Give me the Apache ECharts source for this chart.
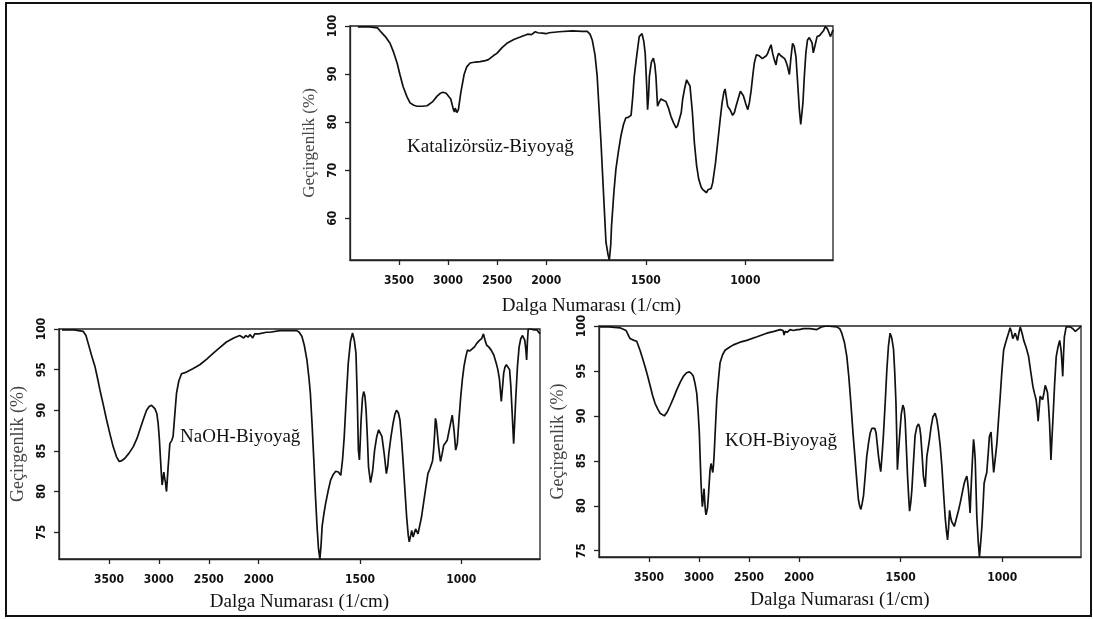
<!DOCTYPE html>
<html>
<head>
<meta charset="utf-8">
<title>FTIR Biyoyağ</title>
<script src="https://cdn.jsdelivr.net/npm/echarts@6/dist/echarts.min.js"></script>
<style>
  html, body { margin: 0; padding: 0; background: #fff; }
  #chart { width: 1093px; height: 619px; }
</style>
</head>
<body>
<div id="chart"></div>
<script>
// FTIR spectra: [wavenumber (1/cm), transmittance (%)]
const katalizorsuzSpectrum = [
  [3920, 99.8], [3800, 99.8], [3720, 99.6], [3694, 99.0], [3640, 97.8], [3592, 96.4], [3555, 94.5],
  [3520, 92.3], [3490, 89.8], [3459, 87.4], [3420, 85.3], [3388, 84.0], [3350, 83.5], [3316, 83.3],
  [3260, 83.3], [3214, 83.4], [3160, 84.2], [3112, 85.4], [3080, 86.0], [3051, 86.2], [3020, 86.0],
  [3000, 85.7], [2973, 84.8], [2946, 82.6], [2935, 82.1], [2928, 82.9], [2922, 82.5], [2910, 82.0],
  [2895, 82.6], [2871, 86.1], [2837, 89.9], [2810, 91.5], [2776, 92.3], [2720, 92.5], [2673, 92.6],
  [2620, 92.8], [2589, 93.0], [2540, 93.8], [2503, 94.3], [2450, 95.5], [2401, 96.4], [2330, 97.2],
  [2265, 97.7], [2190, 98.3], [2150, 98.2], [2112, 98.8], [2085, 98.6], [2070, 98.2], [2040, 98.5],
  [2000, 98.4], [1985, 98.6], [1935, 98.8], [1869, 99.0], [1820, 98.9], [1794, 98.9], [1780, 98.3],
  [1769, 97.1], [1755, 94.0], [1744, 89.5], [1735, 83.0], [1725, 75.8], [1712, 65.0], [1700, 55.0],
  [1690, 52.5], [1683, 51.3], [1676, 54.5], [1672, 58.4], [1660, 65.5], [1650, 70.2], [1637, 74.0],
  [1625, 77.1], [1612, 79.5], [1600, 80.9], [1588, 81.0], [1574, 81.4], [1566, 85.0], [1558, 89.5],
  [1545, 94.0], [1533, 97.8], [1519, 98.4], [1510, 96.8], [1503, 94.3], [1496, 88.0], [1491, 82.6],
  [1486, 85.5], [1482, 89.5], [1472, 92.5], [1462, 93.3], [1455, 92.0], [1449, 89.5], [1441, 83.3],
  [1432, 84.2], [1424, 84.8], [1410, 84.5], [1399, 84.3], [1385, 82.8], [1374, 81.2], [1360, 79.8],
  [1348, 78.8], [1340, 79.3], [1332, 79.2], [1322, 82.0], [1315, 84.7], [1305, 87.0], [1295, 88.8],
  [1286, 88.5], [1278, 87.5], [1266, 82.0], [1256, 75.7], [1245, 71.0], [1234, 68.1], [1222, 66.5],
  [1215, 66.0], [1206, 65.7], [1195, 65.3], [1188, 65.9], [1181, 65.6], [1172, 66.2], [1164, 67.4],
  [1150, 71.5], [1139, 75.7], [1128, 80.0], [1117, 84.0], [1108, 86.2], [1102, 86.9], [1095, 85.0],
  [1089, 83.3], [1076, 82.5], [1064, 81.4], [1055, 82.0], [1047, 83.3], [1035, 85.0], [1025, 86.4],
  [1016, 86.0], [1010, 85.5], [998, 83.8], [988, 82.6], [980, 84.0], [971, 86.6], [962, 90.0],
  [955, 92.3], [945, 94.0], [938, 93.6], [930, 93.8], [915, 93.2], [905, 93.6], [895, 93.8],
  [888, 94.3], [880, 95.2], [871, 96.1], [863, 94.3], [855, 93.0], [846, 91.9], [840, 93.5],
  [833, 94.3], [822, 93.8], [813, 93.6], [803, 93.2], [796, 92.6], [788, 91.5], [779, 89.9],
  [771, 93.5], [763, 96.4], [755, 95.8], [746, 93.6], [738, 88.5], [729, 82.6], [722, 79.5],
  [718, 79.2], [711, 84.0], [704, 89.5], [696, 94.5], [688, 97.1], [679, 97.6], [671, 97.8],
  [665, 96.5], [659, 94.4], [650, 96.0], [640, 97.8], [628, 98.0], [618, 98.1], [608, 99.0],
  [598, 99.9], [588, 99.4], [580, 98.6], [573, 97.8], [566, 98.5], [560, 99.2]
];

const naohSpectrum = [
  [3970, 99.9], [3850, 99.9], [3757, 99.7], [3730, 99.2], [3707, 98.2], [3675, 96.8], [3640, 95.4],
  [3615, 94.0], [3590, 92.5], [3555, 90.6], [3523, 88.8], [3490, 87.1], [3457, 85.5], [3425, 84.3],
  [3397, 83.7], [3370, 83.8], [3340, 84.1], [3300, 84.7], [3257, 85.5], [3220, 86.5], [3190, 87.6],
  [3155, 88.9], [3123, 90.0], [3095, 90.5], [3073, 90.6], [3055, 90.5], [3040, 90.2], [3020, 89.6],
  [3007, 88.4], [2995, 86.5], [2983, 83.9], [2975, 82.2], [2967, 80.8], [2958, 81.6], [2950, 82.4],
  [2941, 81.6], [2933, 81.1], [2928, 80.4], [2923, 80.0], [2915, 81.5], [2907, 83.0], [2898, 84.5],
  [2890, 85.9], [2880, 85.7], [2870, 86.3], [2857, 86.8], [2840, 89.5], [2823, 92.1], [2800, 93.6],
  [2773, 94.5], [2723, 94.7], [2660, 95.1], [2590, 95.6], [2520, 96.3], [2457, 97.0], [2390, 97.7],
  [2323, 98.4], [2250, 98.9], [2190, 99.2], [2150, 98.9], [2130, 99.2], [2107, 99.0], [2085, 99.3],
  [2060, 98.9], [2040, 99.4], [2023, 99.3], [2000, 99.4], [1962, 99.6], [1945, 99.6], [1895, 99.8],
  [1845, 99.8], [1812, 99.8], [1800, 99.6], [1787, 99.1], [1775, 98.0], [1762, 96.2], [1752, 94.0],
  [1745, 92.1], [1737, 88.5], [1728, 83.9], [1720, 79.5], [1712, 75.7], [1705, 73.0], [1698, 71.7],
  [1692, 73.5], [1687, 75.7], [1678, 77.3], [1670, 78.5], [1658, 80.0], [1645, 81.4], [1632, 82.1],
  [1620, 82.5], [1607, 82.4], [1595, 82.0], [1586, 84.0], [1578, 86.7], [1568, 91.5], [1558, 95.8],
  [1547, 98.5], [1537, 99.5], [1528, 98.6], [1520, 97.0], [1514, 92.0], [1508, 85.1], [1503, 83.9],
  [1499, 86.0], [1495, 88.7], [1488, 91.5], [1482, 92.3], [1476, 91.8], [1470, 90.0], [1464, 86.8],
  [1458, 83.0], [1448, 81.1], [1438, 82.5], [1428, 85.1], [1418, 86.7], [1408, 87.6], [1400, 87.4],
  [1392, 86.8], [1380, 84.5], [1370, 82.2], [1363, 83.2], [1358, 84.7], [1347, 86.8], [1337, 88.4],
  [1328, 89.5], [1320, 90.0], [1311, 89.7], [1303, 88.8], [1295, 86.4], [1287, 83.5], [1278, 80.0],
  [1270, 76.9], [1262, 74.6], [1257, 73.8], [1250, 74.6], [1245, 75.2], [1238, 74.4], [1232, 74.5],
  [1226, 75.4], [1220, 75.3], [1214, 74.8], [1208, 75.0], [1197, 76.8], [1187, 78.5], [1176, 80.4],
  [1165, 82.2], [1155, 82.8], [1148, 82.6], [1142, 83.8], [1137, 85.1], [1132, 87.0], [1128, 89.0],
  [1124, 88.6], [1120, 87.6], [1112, 85.5], [1103, 83.7], [1095, 84.6], [1087, 85.7], [1078, 86.0],
  [1070, 86.3], [1058, 87.8], [1045, 89.4], [1036, 87.5], [1028, 85.1], [1020, 85.9], [1012, 88.8],
  [1003, 91.7], [995, 93.8], [987, 95.4], [978, 96.6], [970, 97.4], [958, 97.3], [945, 97.6],
  [935, 97.8], [925, 98.2], [918, 98.0], [911, 98.6], [900, 98.8], [891, 99.4], [883, 98.6],
  [875, 98.0], [865, 97.8], [853, 97.4], [840, 96.8], [828, 95.8], [820, 95.0], [812, 93.8],
  [803, 91.1], [797, 92.8], [791, 94.6], [785, 95.3], [778, 95.6], [770, 95.5], [762, 95.0],
  [756, 93.0], [750, 90.0], [742, 85.9], [737, 88.5], [732, 91.3], [723, 95.5], [715, 97.8],
  [707, 98.8], [698, 99.2], [692, 99.0], [687, 98.6], [682, 97.5], [678, 96.2], [674, 98.5],
  [670, 100.0], [660, 100.0], [653, 100.0], [640, 99.9], [628, 99.9], [620, 99.7], [612, 99.4]
];

const kohSpectrum = [
  [3990, 99.9], [3900, 99.9], [3790, 99.8], [3730, 99.5], [3690, 98.6], [3650, 98.4], [3623, 98.3],
  [3590, 97.3], [3565, 96.4], [3540, 95.5], [3515, 94.5], [3490, 93.4], [3465, 92.3], [3440, 91.4],
  [3415, 90.8], [3390, 90.3], [3347, 90.0], [3320, 90.4], [3290, 91.1], [3255, 92.0], [3223, 92.9],
  [3190, 93.7], [3157, 94.4], [3125, 94.8], [3097, 94.9], [3075, 94.7], [3057, 94.4], [3040, 93.6],
  [3023, 92.5], [3010, 90.6], [2997, 88.1], [2988, 85.0], [2980, 82.5], [2973, 81.0], [2967, 79.9],
  [2958, 80.8], [2950, 81.9], [2943, 80.5], [2937, 79.5], [2930, 79.0], [2923, 78.8], [2915, 79.8],
  [2907, 81.0], [2898, 82.6], [2890, 84.0], [2880, 84.7], [2873, 84.9], [2863, 83.7], [2856, 84.5],
  [2850, 85.5], [2836, 88.8], [2823, 91.8], [2805, 94.2], [2790, 95.9], [2765, 96.8], [2740, 97.3],
  [2700, 97.6], [2657, 97.9], [2590, 98.2], [2523, 98.4], [2420, 98.8], [2323, 99.2], [2250, 99.4],
  [2190, 99.6], [2160, 99.5], [2150, 99.0], [2140, 99.4], [2120, 99.3], [2090, 99.6], [2057, 99.5],
  [2020, 99.6], [2000, 99.6], [1979, 99.7], [1946, 99.7], [1913, 99.6], [1890, 99.9], [1864, 100.0],
  [1814, 99.9], [1800, 99.7], [1790, 99.2], [1777, 98.2], [1765, 96.6], [1755, 94.3], [1745, 91.4],
  [1735, 88.2], [1724, 85.1], [1716, 82.8], [1708, 80.7], [1702, 80.0], [1696, 79.6], [1690, 80.2],
  [1683, 81.1], [1675, 83.2], [1667, 85.5], [1658, 87.0], [1650, 88.1], [1642, 88.6], [1634, 88.8],
  [1627, 88.6], [1621, 88.1], [1615, 86.8], [1609, 85.5], [1603, 84.5], [1598, 83.8], [1592, 85.5],
  [1585, 87.8], [1576, 91.5], [1568, 95.1], [1560, 97.8], [1552, 99.2], [1544, 98.7], [1535, 97.4],
  [1529, 94.8], [1523, 91.4], [1519, 87.5], [1516, 84.0], [1511, 85.8], [1505, 87.8], [1497, 90.2],
  [1489, 91.2], [1483, 90.8], [1478, 89.6], [1472, 86.5], [1466, 83.3], [1460, 80.8], [1456, 79.4],
  [1450, 80.4], [1445, 81.7], [1437, 84.8], [1429, 87.8], [1420, 88.8], [1412, 89.1], [1406, 88.7],
  [1401, 87.8], [1394, 85.5], [1388, 83.3], [1379, 82.1], [1375, 83.8], [1371, 85.5], [1364, 86.5],
  [1358, 87.4], [1350, 88.8], [1341, 89.9], [1330, 90.3], [1322, 89.6], [1314, 88.4], [1305, 86.6],
  [1297, 84.4], [1289, 81.5], [1281, 78.8], [1275, 77.3], [1269, 76.2], [1264, 77.6], [1259, 79.5],
  [1253, 78.6], [1248, 78.2], [1242, 78.0], [1236, 77.7], [1230, 78.2], [1223, 78.8], [1215, 79.5],
  [1207, 80.3], [1197, 81.4], [1187, 82.5], [1180, 83.0], [1174, 83.3], [1170, 82.6], [1166, 81.7],
  [1162, 80.5], [1158, 79.2], [1154, 81.5], [1149, 84.0], [1145, 85.8], [1141, 87.4], [1137, 86.5],
  [1133, 85.2], [1129, 82.0], [1125, 78.8], [1118, 76.0], [1112, 74.3], [1106, 75.9], [1100, 77.7],
  [1094, 80.2], [1089, 82.5], [1082, 83.2], [1076, 83.7], [1069, 85.8], [1063, 87.7], [1055, 88.2],
  [1049, 86.0], [1042, 83.7], [1034, 85.3], [1026, 87.0], [1018, 89.6], [1010, 92.1], [1002, 94.8],
  [993, 97.3], [985, 98.0], [977, 98.6], [969, 99.2], [961, 99.8], [954, 99.3], [948, 98.6],
  [942, 98.9], [936, 99.2], [930, 98.8], [924, 98.4], [918, 99.2], [911, 99.9], [902, 99.2],
  [894, 98.4], [882, 97.6], [870, 96.6], [860, 95.0], [849, 93.3], [841, 92.5], [833, 91.8],
  [828, 90.8], [823, 89.4], [818, 90.8], [813, 92.2], [807, 92.0], [801, 91.8], [794, 92.6],
  [788, 93.4], [782, 93.0], [777, 92.6], [772, 91.2], [767, 89.3], [763, 87.0], [760, 85.1],
  [755, 87.5], [750, 89.7], [742, 93.5], [734, 96.6], [725, 97.7], [717, 98.4], [710, 97.3],
  [706, 96.0], [702, 94.4], [698, 96.8], [694, 98.8], [685, 99.9], [675, 99.9], [665, 99.9],
  [652, 99.7], [640, 99.4], [632, 99.6], [624, 99.7], [612, 100.0]
];

// Each panel: series name, spectrum, low-wavenumber end of the axis
const panelNames = ['Katalizörsüz-Biyoyağ', 'NaOH-Biyoyağ', 'KOH-Biyoyağ'];
const panelSpectra = [katalizorsuzSpectrum, naohSpectrum, kohSpectrum];
const panelWaveEnds = [560, 612, 612];

// Tick labels
const waveTicks = [3500, 3000, 2500, 2000, 1500, 1000];
const transTicksTop = [60, 70, 80, 90, 100];
const transTicksBottom = [75, 80, 85, 90, 95, 100];

const xAxisTitle = 'Dalga Numarası (1/cm)';
const yAxisTitle = 'Geçirgenlik (%)';

// The wavenumber axis runs 4000 -> end with a scale change at 2000 1/cm:
// below 2000 each unit is drawn about twice as wide as above it.
const WAVE_START = 4000;
const WAVE_SPLIT = 2000;
const LOW_STRETCH = 2.03;
function waveToAxis(w) {
  return w >= WAVE_SPLIT ? WAVE_START - w
                         : (WAVE_START - WAVE_SPLIT) + (WAVE_SPLIT - w) * LOW_STRETCH;
}
function axisToWave(p) {
  const s = WAVE_START - WAVE_SPLIT;
  return p <= s ? WAVE_START - p : WAVE_SPLIT - (p - s) / LOW_STRETCH;
}

// Panel layout (pixels)
const panelGrids = [
  { left: 350, top: 26, width: 483, height: 234 },
  { left: 59, top: 329, width: 481, height: 230 },
  { left: 599, top: 326, width: 482, height: 231 }
];
const panelLabelPos = [
  { left: 407, top: 138 },
  { left: 180, top: 428 },
  { left: 725, top: 432 }
];

const tickFont = {
  fontFamily: '"Liberation Sans Narrow", "DejaVu Sans Condensed", "Arial Narrow", sans-serif',
  fontWeight: 'bold',
  fontSize: 12,
  color: '#111'
};
const serif = '"Liberation Serif", "Times New Roman", serif';
const axisLineStyle = { color: '#222', width: 1.3 };

const grids = [], xAxes = [], yAxes = [], series = [], titles = [];

panelSpectra.forEach((spec, i) => {
  grids.push(Object.assign({
    show: true, borderColor: '#222', borderWidth: 1.3, backgroundColor: 'transparent'
  }, panelGrids[i]));

  const xTicks = waveTicks.map(waveToAxis);
  xAxes.push({
    gridIndex: i,
    type: 'value',
    min: 0,
    max: waveToAxis(panelWaveEnds[i]),
    splitLine: { show: false },
    axisLine: { show: true, lineStyle: axisLineStyle },
    axisTick: { show: true, length: 5, customValues: xTicks, lineStyle: axisLineStyle },
    axisLabel: Object.assign({
      customValues: xTicks,
      margin: 15,
      formatter: v => String(Math.round(axisToWave(v) / 10) * 10)
    }, tickFont),
    name: xAxisTitle,
    nameLocation: 'middle',
    nameGap: i === 0 ? 37 : 34,
    nameTextStyle: { fontFamily: serif, fontSize: 19, color: '#111' }
  });

  const yTicks = i === 0 ? transTicksTop : transTicksBottom;
  yAxes.push({
    gridIndex: i,
    type: 'value',
    min: 'dataMin',
    max: 100,
    splitLine: { show: false },
    axisLine: { show: true, lineStyle: axisLineStyle },
    axisTick: { show: true, length: 5, customValues: yTicks, lineStyle: axisLineStyle },
    axisLabel: Object.assign({
      customValues: yTicks,
      rotate: 90,
      margin: 11
    }, tickFont),
    name: yAxisTitle,
    nameLocation: 'middle',
    nameGap: 32,
    nameTextStyle: { fontFamily: serif, fontSize: i === 0 ? 17 : 18, color: '#444' }
  });

  series.push({
    name: panelNames[i],
    type: 'line',
    xAxisIndex: i,
    yAxisIndex: i,
    showSymbol: false,
    symbol: 'none',
    smooth: false,
    animation: false,
    lineStyle: { color: '#111', width: 1.7 },
    data: spec.map(([w, t]) => [waveToAxis(w), t])
  });

  titles.push({
    text: panelNames[i],
    left: panelLabelPos[i].left,
    top: panelLabelPos[i].top,
    padding: 0,
    textStyle: { fontFamily: serif, fontSize: 19, fontWeight: 'normal', color: '#111' }
  });
});

const chart = echarts.init(document.getElementById('chart'), null, { renderer: 'canvas' });
chart.setOption({
  backgroundColor: '#fff',
  animation: false,
  title: titles,
  grid: grids,
  xAxis: xAxes,
  yAxis: yAxes,
  series: series,
  graphic: [{
    type: 'rect',
    silent: true,
    shape: { x: 6, y: 3, width: 1085, height: 613 },
    style: { fill: 'none', stroke: '#111', lineWidth: 2 }
  }]
});
</script>
</body>
</html>
